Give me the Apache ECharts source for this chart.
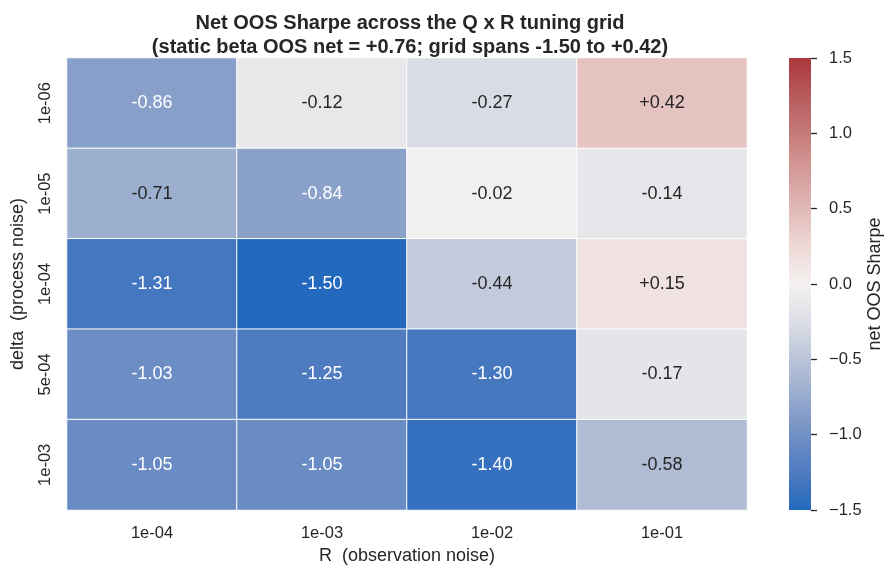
<!DOCTYPE html>
<html>
<head>
<meta charset="utf-8">
<script src="https://cdn.jsdelivr.net/npm/echarts@6/dist/echarts.min.js"></script>
<style>
  html, body { margin: 0; padding: 0; background: #fff; }
  #chart { width: 894px; height: 576px; }
</style>
</head>
<body>
<div id="chart"></div>
<script>
// R values along x, delta values along y (top to bottom)
const rLabels = ['1e-04', '1e-03', '1e-02', '1e-01'];
const deltaLabels = ['1e-06', '1e-05', '1e-04', '5e-04', '1e-03'];

// net OOS Sharpe per delta row
const row1e06 = [-0.86, -0.12, -0.27, 0.42];
const row1e05 = [-0.71, -0.84, -0.02, -0.14];
const row1e04 = [-1.31, -1.50, -0.44, 0.15];
const row5e04 = [-1.03, -1.25, -1.30, -0.17];
const row1e03 = [-1.05, -1.05, -1.40, -0.58];
const rows = [row1e06, row1e05, row1e04, row5e04, row1e03];

// vlag-like diverging palette, -1.5 .. +1.5 in steps of 0.25
const vlag = ['#2369bd', '#4f7cc1', '#7190c5', '#98abcd', '#bac4d8', '#dcdee6', '#f4f1f0',
              '#eed8d7', '#e0b9b6', '#d49b99', '#c57b7b', '#b75a5c', '#a9373b'];

const font = '"Liberation Sans", Arial, sans-serif';
const ink = '#262626';

const cells = [];
rows.forEach((row, yi) => {
  row.forEach((v, xi) => {
    cells.push({
      value: [xi, yi, v],
      label: { color: v < -0.78 ? '#ffffff' : ink }
    });
  });
});

const fmt = v => (v > 0 ? '+' : '') + v.toFixed(2);

// colorbar fill: same palette as the visualMap, bottom (-1.5) to top (+1.5)
const barFill = new echarts.graphic.LinearGradient(0, 1, 0, 0,
  vlag.map((c, i) => ({ offset: i / (vlag.length - 1), color: c })));

const chart = echarts.init(document.getElementById('chart'));

const option = {
  animation: false,
  backgroundColor: '#ffffff',
  textStyle: { fontFamily: font },
  title: {
    text: 'Net OOS Sharpe across the Q x R tuning grid\n(static beta OOS net = +0.76; grid spans -1.50 to +0.42)',
    left: 405,
    textAlign: 'center',
    top: 6,
    textStyle: { fontFamily: font, fontSize: 20, fontWeight: 'bold', color: ink, lineHeight: 24 }
  },
  visualMap: {
    type: 'continuous',
    show: false,
    min: -1.5,
    max: 1.5,
    seriesIndex: 0,
    inRange: { color: vlag }
  },
  grid: [
    { left: 67, top: 58, width: 680, height: 452, outerBoundsMode: 'none' },
    {
      left: 789, top: 58, width: 22, height: 452, outerBoundsMode: 'none',
      show: true, backgroundColor: barFill, borderWidth: 0
    }
  ],
  xAxis: [
    {
      type: 'category',
      gridIndex: 0,
      data: rLabels,
      name: 'R  (observation noise)',
      nameLocation: 'middle',
      nameGap: 33,
      nameTextStyle: { fontSize: 18, color: ink },
      axisLine: { show: false },
      axisTick: { show: false },
      axisLabel: { fontSize: 16.5, color: ink, margin: 15 },
      splitLine: { show: false }
    },
    {
      type: 'value',
      gridIndex: 1,
      show: false
    }
  ],
  yAxis: [
    {
      type: 'category',
      gridIndex: 0,
      data: deltaLabels,
      inverse: true,
      name: 'delta  (process noise)',
      nameLocation: 'middle',
      nameGap: 40,
      nameRotate: 90,
      nameTextStyle: { fontSize: 18, color: ink },
      axisLine: { show: false },
      axisTick: { show: false },
      axisLabel: { fontSize: 16.5, color: ink, rotate: 90, margin: 13 },
      splitLine: { show: false }
    },
    {
      type: 'value',
      gridIndex: 1,
      position: 'right',
      min: -1.5,
      max: 1.5,
      interval: 0.5,
      name: 'net OOS Sharpe',
      nameLocation: 'middle',
      nameGap: 55,
      nameRotate: 90,
      nameTextStyle: { fontSize: 18, color: ink },
      axisLine: { show: false, onZero: false },
      axisTick: { show: true, length: 6, lineStyle: { color: ink, width: 1.3 } },
      axisLabel: {
        fontSize: 16.5,
        color: ink,
        margin: 18,
        formatter: v => (v < 0 ? '\u2212' + Math.abs(v).toFixed(1) : v.toFixed(1))
      },
      splitLine: { show: false }
    }
  ],
  series: [
    {
      type: 'heatmap',
      xAxisIndex: 0,
      yAxisIndex: 0,
      data: cells,
      itemStyle: { borderColor: '#ffffff', borderWidth: 1 },
      label: {
        show: true,
        fontSize: 18,
        fontFamily: font,
        formatter: p => fmt(p.value[2])
      },
      emphasis: { disabled: true }
    }
  ]
};

chart.setOption(option);
window.addEventListener('resize', chart.resize);
</script>
</body>
</html>
